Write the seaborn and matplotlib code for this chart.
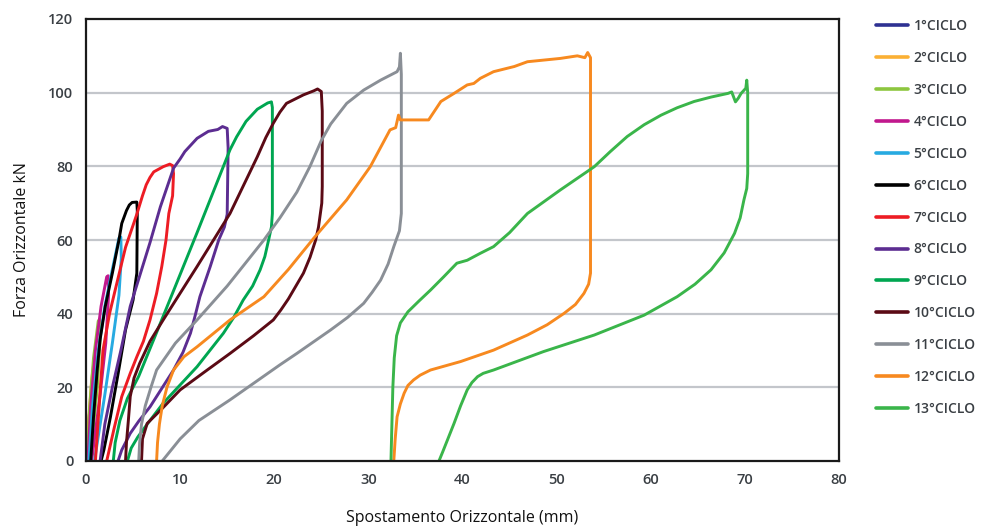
import matplotlib
matplotlib.use("Agg")
import matplotlib.pyplot as plt
import seaborn as sns
import pandas as pd

# ---------------- data ----------------
labels = ["1°CICLO", "2°CICLO", "3°CICLO", "4°CICLO", "5°CICLO", "6°CICLO", "7°CICLO",
          "8°CICLO", "9°CICLO", "10°CICLO", "11°CICLO", "12°CICLO", "13°CICLO"]
colors = ["#2e3192", "#fbb034", "#8dc63f", "#c1188d", "#27aae1", "#000000", "#ed1c24",
          "#5c2d91", "#00a651", "#5b0a15", "#8a8f96", "#f7891f", "#3ab54a"]

c1_x = [0.05, 0.2, 0.4, 0.55, 0.55, 0.4, 0.2]
c1_y = [0, 8, 14, 15, 12, 6, 0]
c2_x = [0.1, 0.3, 0.6, 0.9, 1.0, 1.05, 0.8, 0.5, 0.3]
c2_y = [0, 12, 22, 28, 28.3, 24, 14, 5, 0]
c3_x = [0.15, 0.4, 0.8, 1.3, 1.45, 1.5, 1.2, 0.7, 0.4]
c3_y = [0, 15, 28, 38, 38.5, 33, 20, 7, 0]
c4_x = [0.2, 0.5, 1.0, 1.6, 2.2, 2.35, 2.4, 2.1, 1.5, 0.9, 0.6]
c4_y = [0, 15, 30, 42, 50, 50.3, 45, 32, 18, 6, 0]
c5_x = [0.3, 0.7, 1.3, 2.0, 2.8, 3.5, 3.7, 3.75, 3.5, 2.8, 2.0, 1.2, 0.9]
c5_y = [0, 15, 30, 42, 52, 60.5, 60.8, 55, 45, 32, 18, 5, 0]
c6_x = [0.5, 0.8, 1.2, 1.5, 2.05, 2.8, 3.5, 3.8, 4.3, 4.6, 4.9, 5.4, 5.45, 5.4, 5.0, 4.2,
        3.5, 2.6, 1.9, 1.6]
c6_y = [0, 12, 25, 33, 42, 51, 60, 64.5, 68, 69.5, 70.2, 70.3, 68, 51, 43.7, 35.6,
        25, 12, 3, 0]
c7_x = [1.0, 1.4, 1.8, 2.5, 3.1, 4.2, 5.4, 6.0, 6.4, 6.8, 7.2, 8.2, 8.9, 9.2, 9.3, 9.2,
        8.8, 8.5, 8.05, 7.5, 6.8, 6.1, 5.4, 4.7, 3.8, 3.0, 2.2]
c7_y = [0, 15, 30, 40, 46.4, 58, 67, 72, 75, 77, 78.5, 79.9, 80.6, 80.2, 78, 72,
        67.2, 60, 52.8, 45.5, 38.3, 32.5, 28.3, 23.8, 17.5, 9, 0]
c8_x = [1.5, 2.0, 2.8, 3.7, 4.7, 6.8, 7.9, 9.3, 10.0, 10.5, 11.8, 13.0, 14.0, 14.5, 15.0,
        15.1, 15.0, 14.7, 14.1, 13.2, 12.1, 11.6, 11.1, 10.3, 9.3, 8.0, 6.8, 5.6, 4.7, 3.8, 3.4]
c8_y = [0, 10, 20, 30, 42, 59.3, 69, 79.5, 82, 84, 87.6, 89.5, 90, 90.8, 90.3,
        85, 67, 63.5, 60, 52.8, 44.6, 39.5, 34.7, 29.5, 24.7, 19.5, 14.7, 10.8, 7.5, 3, 0]
c9_x = [2.9, 3.1, 3.6, 4.4, 5.6, 7.2, 8.9, 11.8, 14.6, 15.3, 16.0, 17.0, 18.2, 19.3, 19.7,
        19.8, 19.8, 19.7, 19.4, 19.0, 18.5, 17.7, 16.7, 15.7, 14.6, 11.8, 8.2, 6.5, 5.5, 4.8, 4.4]
c9_y = [0, 5, 11, 17, 23, 33, 43.7, 62, 80, 84.5, 88, 92.2, 95.5, 97.2, 97.5,
        96, 67.2, 63.5, 60, 55.5, 51.9, 47.5, 43.7, 39, 34.7, 25.6, 15.7, 10, 6.5, 3.5, 0]
c10_x = [4.2, 4.3, 4.5, 4.7, 5.1, 5.7, 6.8, 8.2, 11.8, 15.3, 18.2, 19.1, 19.9, 20.6, 21.3,
         23.1, 24.2, 24.6, 25.0, 25.1, 25.1, 25.05, 24.9, 24.7, 24.4, 23.8, 23.1, 22.3, 21.5,
         20.7, 19.9, 17.8, 15.3, 12.5, 10.0, 8.0, 6.5, 6.0, 5.9]
c10_y = [0, 5, 11, 17.5, 22.5, 26.5, 32.5, 38.3, 52.8, 67.2, 82.6, 87.8, 91.7, 94.7, 97.1,
         99.4, 100.5, 101, 100.3, 95, 74.5, 70, 67.2, 63.5, 60, 55.3, 51, 47.5, 44,
         41, 38.3, 34, 29.2, 24, 19.3, 14, 10.2, 6, 0]
c11_x = [5.6, 5.7, 5.9, 6.3, 6.9, 7.5, 9.5, 11.8, 15.0, 18.9, 20.6, 22.4, 23.8, 25.0, 26.0,
         27.7, 29.5, 31.3, 33.05, 33.3, 33.4, 33.5, 33.5, 33.3, 32.7, 32.1, 31.3, 30.4, 29.5,
         27.8, 26.0, 22.4, 20.6, 15.3, 12.0, 10.0, 8.1]
c11_y = [0, 5, 10, 15, 20, 24.7, 32, 38.3, 47.5, 60, 66, 73, 80, 87, 91.5,
         97.1, 100.7, 103.4, 105.7, 107, 110.7, 105, 67.2, 62.5, 58.2, 53.5, 49.1, 45.8, 42.8,
         39, 35.6, 29.2, 26.1, 16.6, 11, 6, 0]
c12_x = [7.5, 7.6, 7.8, 8.1, 8.6, 9.3, 10.4, 11.8, 15.3, 18.9, 21.5, 24.2, 27.7, 30.2, 32.3,
         32.9, 33.2, 33.4, 36.4, 37.7, 39.1, 40.5, 41.2, 41.9, 43.3, 45.5, 46.9, 50.4, 52.2,
         53.0, 53.3, 53.6, 53.6, 53.4, 52.9, 52.0, 50.8, 49.0, 46.9, 43.3, 39.8, 36.6, 35.5,
         34.8, 34.2, 33.8, 33.4, 33.05, 32.85, 32.7]
c12_y = [0, 5, 10, 15, 20, 24.7, 28.3, 31, 38.3, 44.6, 52, 60.5, 70.9, 79.9, 89.9,
         90.5, 93.9, 92.6, 92.6, 97.6, 99.8, 102.1, 102.5, 103.9, 105.7, 107.1, 108.4, 109.3, 110,
         109.5, 110.9, 109.5, 51, 48, 45.5, 42.5, 40.1, 37, 34.2, 30.1, 27, 24.7, 23.3,
         22, 20.5, 18.4, 15.5, 12, 6, 0]
c13_x = [32.4, 32.5, 32.6, 32.75, 33.0, 33.4, 34.2, 35.4, 36.6, 38.0, 39.4, 40.5, 41.9, 43.3,
         45.0, 46.9, 50.4, 54.0, 55.7, 57.5, 59.3, 61.1, 62.8, 64.6, 66.4, 68.2, 68.6, 69.0,
         69.3, 69.6, 70.1, 70.2, 70.3, 70.3, 70.2, 69.9, 69.5, 68.9, 67.8, 66.4, 64.7, 62.8,
         59.3, 54.0, 48.6, 43.3, 42.2, 41.6, 41.0, 40.5, 39.8, 39.1, 38.4, 37.9, 37.5]
c13_y = [0, 10, 20, 28, 34, 37.5, 40.5, 43.5, 46.4, 50, 53.7, 54.5, 56.4, 58.2,
         62, 67.2, 73.6, 79.9, 84, 88.1, 91.3, 93.9, 95.9, 97.6, 98.8, 99.8, 100.2, 97.5,
         98.5, 99.8, 101.2, 103.4, 100, 78, 74, 70.9, 66, 61.8, 56.5, 51.9, 48, 44.6,
         39.6, 34.2, 29.7, 24.7, 23.8, 22.9, 21.3, 19.3, 15, 10.2, 5.7, 2.5, 0]

xs = [c1_x, c2_x, c3_x, c4_x, c5_x, c6_x, c7_x, c8_x, c9_x, c10_x, c11_x, c12_x, c13_x]
ys = [c1_y, c2_y, c3_y, c4_y, c5_y, c6_y, c7_y, c8_y, c9_y, c10_y, c11_y, c12_y, c13_y]

x_ticks = [0, 10, 20, 30, 40, 50, 60, 70, 80]
y_ticks = [0, 20, 40, 60, 80, 100, 120]

rows = []
for lab, xv, yv in zip(labels, xs, ys):
    for i, (a, b) in enumerate(zip(xv, yv)):
        rows.append({"ciclo": lab, "x": a, "y": b, "i": i})
df = pd.DataFrame(rows)

# ---------------- plot ----------------
sns.set_theme(style="white")
plt.rcParams["font.family"] = ["Open Sans", "DejaVu Sans"]

fig = plt.figure(figsize=(9.82, 5.29), dpi=100)
ax = fig.add_axes([86 / 982, 1 - 461 / 529, (839 - 86) / 982, (461 - 19) / 529])

ax.set_axisbelow(True)
for yt in y_ticks[1:-1]:
    ax.axhline(yt, color="#c3c6cb", lw=1.6, zorder=0)

sns.lineplot(data=df, x="x", y="y", hue="ciclo", hue_order=labels,
             palette=dict(zip(labels, colors)), sort=False, estimator=None,
             lw=2.1, ax=ax, legend=True)
for ln in ax.get_lines():
    ln.set_solid_joinstyle("round")
    ln.set_solid_capstyle("round")

ax.set_xlim(0, 80)
ax.set_ylim(0, 120)
ax.set_xticks(x_ticks)
ax.set_yticks(y_ticks)
ax.tick_params(length=0, labelsize=10.5, colors="#3a3f44", pad=9)
for t in ax.get_xticklabels() + ax.get_yticklabels():
    t.set_fontweight("semibold")
for s in ax.spines.values():
    s.set_color("#1a1a1a")
    s.set_linewidth(1.6)
    s.set_visible(True)

ax.set_xlabel("Spostamento Orizzontale (mm)", fontsize=11.5, color="#111111", labelpad=16)
ax.set_ylabel("Forza Orizzontale kN", fontsize=11.5, color="#111111", labelpad=13)

handles, labs = ax.get_legend_handles_labels()
for h in handles:
    h.set_linewidth(2.6)
leg = ax.legend(handles, labs, loc="upper left", bbox_to_anchor=(876 / 982, 1 - 19 / 529),
                bbox_transform=fig.transFigure, frameon=False, fontsize=10,
                handlelength=2.3, handletextpad=0.4, labelspacing=1.29,
                borderpad=0, borderaxespad=0)
for t in leg.get_texts():
    t.set_color("#3a3f44")
    t.set_fontweight("semibold")

fig.savefig("out.png", dpi=100)
